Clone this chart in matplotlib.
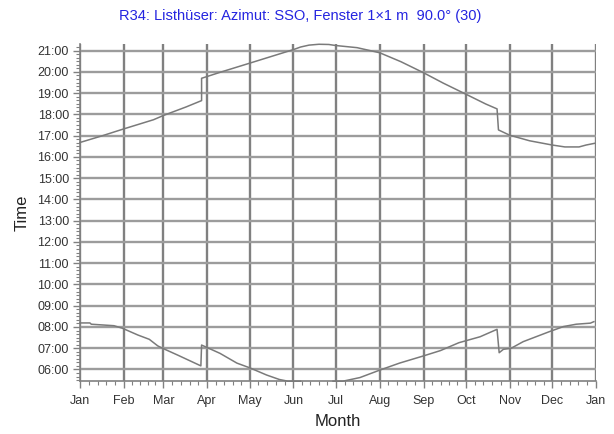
import numpy as np
import matplotlib
matplotlib.use("Agg")
import matplotlib.pyplot as plt
from matplotlib.ticker import FixedLocator, FuncFormatter, MultipleLocator

plt.rcParams['font.family'] = ['Liberation Sans', 'DejaVu Sans']

# Day of year (0 = 1 Jan) and clock time in decimal hours
late_days = [0, 15, 31, 52, 59, 75, 86, 86, 100, 120, 135, 151, 156, 162,
             169, 176, 181, 196, 212, 227, 243, 257, 273, 287, 295, 296,
             304, 318, 334, 343, 353, 358, 364]
late_hours = [16.68, 16.98, 17.32, 17.75, 17.95, 18.35, 18.65, 19.70, 20.00,
              20.41, 20.72, 21.05, 21.17, 21.26, 21.30, 21.29, 21.24, 21.14,
              20.90, 20.48, 19.96, 19.47, 18.95, 18.49, 18.26, 17.27, 17.02,
              16.76, 16.56, 16.47, 16.47, 16.56, 16.64]

early_days = [0, 7, 8, 24, 30, 41, 49, 55, 60, 69, 85.5, 86, 99, 111, 120,
              132, 141, 147, 156, 167, 179, 186, 198, 212, 226, 243, 255,
              268, 283, 295, 296.5, 299.5, 305, 313.5, 332, 342, 351, 361,
              363.5]
early_hours = [8.19, 8.19, 8.13, 8.06, 7.94, 7.62, 7.42, 7.11, 6.95, 6.68,
               6.17, 7.15, 6.76, 6.30, 6.08, 5.74, 5.53, 5.45, 5.45, np.nan,
               5.45, 5.45, 5.62, 5.97, 6.30, 6.64, 6.89, 7.26, 7.54, 7.89,
               6.79, 6.95, 7.00, 7.31, 7.78, 8.02, 8.13, 8.18, 8.25]

month_names = ['Jan', 'Feb', 'Mar', 'Apr', 'May', 'Jun', 'Jul', 'Aug',
               'Sep', 'Oct', 'Nov', 'Dec', 'Jan']
month_starts = [0, 31, 59, 90, 120, 151, 181, 212, 243, 273, 304, 334, 365]
hour_ticks = list(range(6, 22))

title = 'R34: Listhüser: Azimut: SSO, Fenster 1×1 m  90.0° (30)'

fig = plt.figure(figsize=(6.14, 4.34), dpi=100)
ax = fig.add_axes([0.1303, 0.1217, 0.8404, 0.7763])

grid_v = '#808080'
grid_h = '#9c9c9c'
curve = '#7a7a7a'

ax.set_xlim(0, 365)
ax.set_ylim(5.45, 21.3)

for d in month_starts:
    ax.axvline(d, color=grid_v, lw=1.7, zorder=1)
for h in hour_ticks:
    ax.axhline(h, color=grid_h, lw=1.7, zorder=1)

ax.plot(late_days, late_hours, color=curve, lw=1.1, zorder=3, clip_on=False)
ax.plot(early_days, early_hours, color=curve, lw=1.1, zorder=3, clip_on=False)

# minor ticks: four per month on the date axis, ten minutes on the hour axis
minor_days = []
for a, b in zip(month_starts[:-1], month_starts[1:]):
    minor_days += [a + (b - a) * k / 5 for k in range(1, 5)]
ax.xaxis.set_major_locator(FixedLocator(month_starts))
ax.xaxis.set_minor_locator(FixedLocator(minor_days))
ax.set_xticklabels(month_names)

ax.yaxis.set_major_locator(FixedLocator(hour_ticks))
ax.yaxis.set_minor_locator(MultipleLocator(1 / 6))
ax.yaxis.set_major_formatter(FuncFormatter(lambda v, p: f'{int(round(v)):02d}:00'))

ax.tick_params(axis='both', which='major', length=5, width=1.0,
               color=grid_v, labelsize=9, labelcolor='#333333', pad=3)
ax.tick_params(axis='both', which='minor', length=3, width=0.8, color=grid_v)
ax.tick_params(axis='x', which='major', pad=5)

for s in ['top', 'right']:
    ax.spines[s].set_visible(False)
for s in ['left', 'bottom']:
    ax.spines[s].set_color(grid_v)
    ax.spines[s].set_linewidth(1.2)

ax.set_xlabel('Month', fontsize=12, color='#222222', labelpad=5)
ax.set_ylabel('Time', fontsize=12, color='#222222', labelpad=6)

fig.text(0.489, 0.962, title, ha='center', va='center', fontsize=10.5,
         color='#2424e0')

fig.savefig('out.png', dpi=100)
